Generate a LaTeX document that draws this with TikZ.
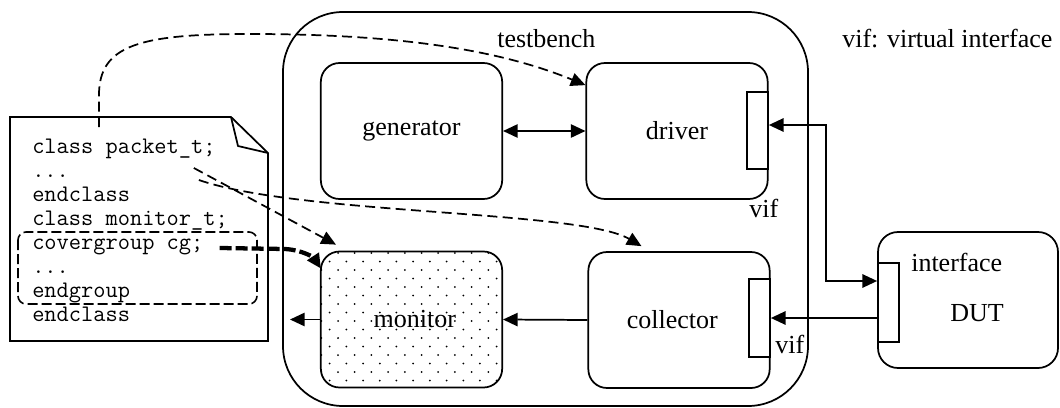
\documentclass[tikz,border=0pt]{standalone}
\usepackage{fontspec}
\setmainfont{Liberation Serif}
\usetikzlibrary{arrows.meta,calc}
\begin{document}
\begin{tikzpicture}[x=0.75pt,y=-0.75pt,
  >={Triangle[length=11pt,width=10pt]},
  box/.style={draw,line width=1.3pt,rounded corners=14pt,minimum width=136pt,
    minimum height=102pt,inner sep=0pt,font=\fontsize{19.5}{22}\selectfont},
  port/.style={draw,line width=1.3pt,fill=white,minimum width=15.75pt,
    minimum height=58pt,inner sep=0pt},
  lbl/.style={anchor=base west,inner sep=0pt,font=\fontsize{19.5}{22}\selectfont},
  code/.style={anchor=base west,inner sep=0pt,font=\ttfamily\fontsize{17.8}{20}\selectfont},
  wire/.style={line width=1.3pt},
  dsh/.style={line width=1.3pt,dash pattern=on 7.5pt off 4pt},
  thickdsh/.style={line width=3.2pt,dash pattern=on 9pt off 3pt}]
\useasboundingbox (0,0) rectangle (1060,407);

% testbench frame
\node[draw,line width=1.3pt,rounded corners=45pt,minimum width=393.75pt,
  minimum height=295.5pt,inner sep=0pt] (tb) at (545.5,209) {};
\node[lbl] (tbl) at (497,47) {testbench};
\node[lbl] (note) at (842,47) {vif: virtual interface};

% dotted fill of the monitor
\begin{scope}
  \clip[rounded corners=14pt] (321,252) rectangle (502,387);
  \foreach \j in {0,...,16} {
    \pgfmathsetmacro\yy{253+8.5*\j}
    \pgfmathsetmacro\xo{338-8.35*mod(\j,2)}
    \foreach \i in {-1,...,11}
      \fill (\xo+16.7*\i,\yy) circle (0.75pt);
  }
\end{scope}

% components
\node[box] (gen) at (411.5,131) {generator};
\node[box] (drv) at (677,131) {driver};
\node[box] (mon) at (411.5,319.5) {\hspace*{5pt}monitor};
\node[box] (col) at (679,320) {collector\hspace*{10pt}};
\node[box,rounded corners=15pt,minimum width=135pt] (dut) at (968,300) {};
\node[lbl] (dutl) at (950,321) {DUT};
\node[lbl] (ifl) at (911,271) {interface};

% interface ports
\node[port,minimum height=57.75pt] (dvif) at (757.5,130.5) {};
\node[port,minimum height=58.5pt] (cvif) at (759.5,318) {};
\node[port,minimum height=59.25pt] (dif) at (888.5,302.5) {};
\node[lbl] (dvifl) at (749,217) {vif};
\node[lbl] (cvifl) at (775,353) {vif};

% code listing
\draw[line width=1.3pt,fill=white] (10,117) -- (231,117) -- (268,153) -- (268,341) -- (10,341) -- cycle;
\draw[line width=1.3pt,line join=round] (231,117) -- (238,146) -- (268,153);
\node[code] (l1) at (32,153) {class packet\_t;};
\node[code] (l2) at (32,177) {...};
\node[code] (l3) at (32,201) {endclass};
\node[code] (l4) at (32,225) {class monitor\_t;};
\node[code] (l5) at (32,249) {covergroup cg;};
\node[code] (l6) at (32,273) {...};
\node[code] (l7) at (32,297) {endgroup};
\node[code] (l8) at (32,321) {endclass};
\draw[line width=1.2pt,dash pattern=on 7.5pt off 3pt,rounded corners=6pt] (18,232) rectangle (257,304);

% data paths
\draw[wire,<->] (gen.east) -- (drv.west);
\draw[wire,->] (col.west) -- (mon.east);
\coordinate (out) at (290,319.5);
\draw[wire,->] (mon.west) -- (out);
\coordinate (bendA) at (826,125);
\coordinate (bendB) at (826,281);
\draw[wire,<->] (bendA -| dvif.east) -- (bendA) -- (bendB) -- (bendB -| dif.west);
\draw[wire,<-] (cvif.east) -- (cvif.east -| dif.west);

% class references
\coordinate (src) at (99,127);
\draw[dsh,->] (src) -- (99,95) .. controls (99,45) and (140,34) .. (250,34)
  .. controls (400,34) and (500,50) .. ($(drv.north west)+(0,23)$);
\draw[dsh,->] ($(l1.base east)+(-22,15)$) -- ($(mon.north west)+(16,-6)$);
\draw[dsh,->] ($(l1.base east)+(-17,27)$) .. controls (300,215) and (580,210)
  .. ($(col.north west)+(54,-5)$);
\draw[thickdsh,->] ($(l5.base east)+(16,-1)$) -- (285,249)
  .. controls (303,250) and (314,258) .. ($(mon.north west)+(1,18)$);
\end{tikzpicture}
\end{document}
